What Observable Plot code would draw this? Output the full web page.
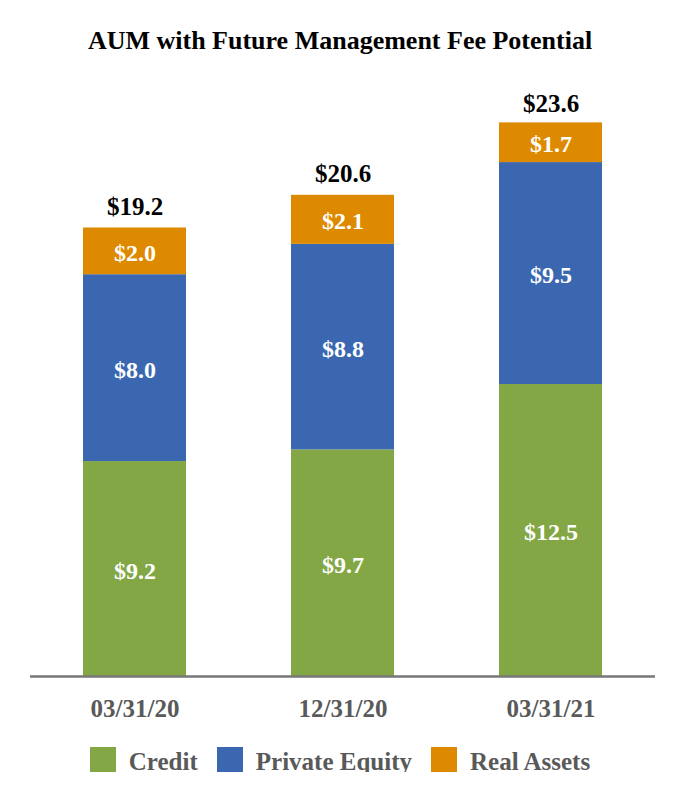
<!DOCTYPE html>
<html>
<head>
<meta charset="utf-8">
<script src="https://cdn.jsdelivr.net/npm/d3@7"></script>
<script src="https://cdn.jsdelivr.net/npm/@observablehq/plot@0.6"></script>
<style>
  body { margin: 0; background: #fff; font-family: "Liberation Serif", "Times New Roman", serif; }
  #wrap { width: 680px; }
  #title { height: 44px; padding-top: 26px; line-height: 30px; font-size: 26px; font-weight: bold; text-align: center; color: #000; box-sizing: content-box; }
  #legend { display: flex; justify-content: center; align-items: center; margin-top: 17px; font-size: 25px; font-weight: bold; color: #595959; }
  .item { display: flex; align-items: center; margin: 0 9.5px; }
  .sw { width: 26px; height: 25px; margin-right: 13px; }
  .lab { line-height: 25px; position: relative; top: 2px; }
</style>
</head>
<body>
<div id="wrap">
  <div id="title">AUM with Future Management Fee Potential</div>
  <div id="chart"></div>
  <div id="legend"></div>
</div>
<script>
const dates = ["03/31/20", "12/31/20", "03/31/21"];
const seriesNames = ["Credit", "Private Equity", "Real Assets"];
const credit = [9.2, 9.7, 12.5];
const privateEquity = [8.0, 8.8, 9.5];
const realAssets = [2.0, 2.1, 1.7];
const totals = [19.2, 20.6, 23.6];
const colors = ["#82A744", "#3A67B0", "#DE8A00"];

const seriesValues = [credit, privateEquity, realAssets];
const data = [];
dates.forEach((d, i) => {
  seriesNames.forEach((s, j) => {
    data.push({date: d, series: s, value: seriesValues[j][i]});
  });
});
const totalRows = dates.map((d, i) => ({date: d, total: totals[i]}));

const chart = Plot.plot({
  width: 680,
  height: 660,
  marginTop: 22,
  marginBottom: 54,
  marginLeft: 30,
  marginRight: 25,
  style: {fontFamily: '"Liberation Serif", "Times New Roman", serif', background: "white"},
  x: {type: "band", domain: dates, paddingInner: 0.505, paddingOuter: 0.25},
  y: {domain: [0, 25], axis: null},
  color: {domain: seriesNames, range: colors},
  marks: [
    Plot.barY(data, {x: "date", y: "value", fill: "series"}),
    Plot.text(data, Plot.stackY({
      x: "date", y: "value", z: "series",
      text: d => "$" + d.value.toFixed(1),
      fill: "white", fontSize: 24, fontWeight: "bold", dy: 2
    })),
    Plot.text(totalRows, {
      x: "date", y: "total",
      text: d => "$" + d.total.toFixed(1),
      fill: "black", fontSize: 25, fontWeight: "bold", lineAnchor: "bottom", dy: -13
    }),
    Plot.ruleY([0], {stroke: "#777777", strokeWidth: 2.5}),
    Plot.axisX({tickSize: 0, tickPadding: 23, fontSize: 25, fontWeight: "bold", fill: "#595959", label: null})
  ]
});
document.getElementById("chart").appendChild(chart);

const legend = document.getElementById("legend");
seriesNames.forEach((s, j) => {
  const item = document.createElement("div");
  item.className = "item";
  const sw = document.createElement("div");
  sw.className = "sw";
  sw.style.background = colors[j];
  const lab = document.createElement("span");
  lab.className = "lab";
  lab.textContent = s;
  item.appendChild(sw);
  item.appendChild(lab);
  legend.appendChild(item);
});
</script>
</body>
</html>
